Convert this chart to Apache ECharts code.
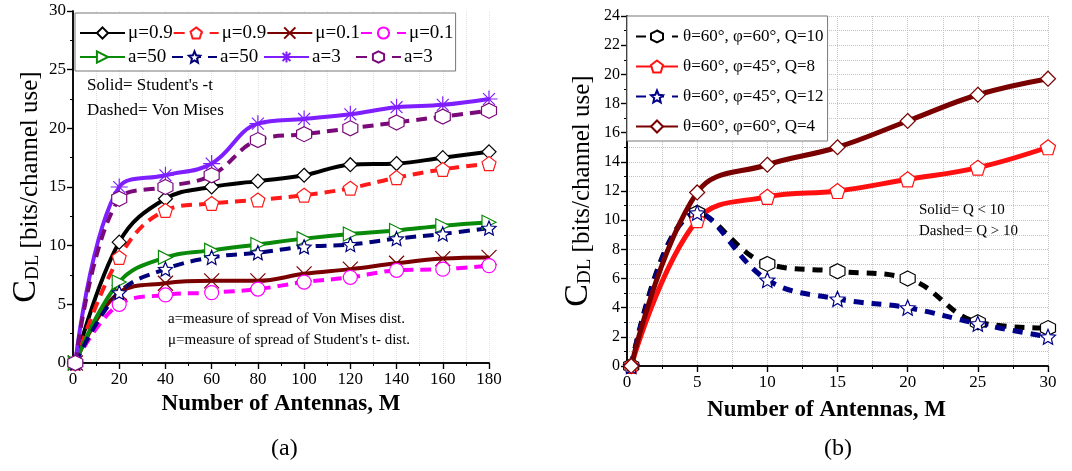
<!DOCTYPE html>
<html>
<head>
<meta charset="utf-8">
<script src="https://cdn.jsdelivr.net/npm/echarts@6/dist/echarts.min.js"></script>
<style>
  html, body { margin: 0; padding: 0; background: #fff; }
  #chart { width: 1072px; height: 471px; }
</style>
</head>
<body>
<div id="chart"></div>
<script>
// ---- data, panel (a): capacity vs number of antennas
const antennasA = [1, 20, 40, 60, 80, 100, 120, 140, 160, 180]
const mu09Solid = [0, 10.3, 14, 15, 15.5, 16, 16.9, 17, 17.5, 18]
const mu09Dashed = [0, 9, 13, 13.6, 13.9, 14.3, 14.9, 15.8, 16.5, 17]
const mu01Solid = [0, 6, 6.8, 7, 7, 7.6, 8, 8.5, 8.9, 9]
const mu01Dashed = [0, 5, 5.8, 6, 6.3, 6.9, 7.3, 7.9, 8, 8.3]
const a50Solid = [0, 6.9, 9, 9.6, 10.1, 10.6, 11, 11.3, 11.7, 12]
const a50Dashed = [0, 6, 8, 9, 9.4, 9.9, 10.1, 10.6, 11, 11.5]
const a3Solid = [0, 15, 16, 17, 20.4, 20.8, 21.2, 21.8, 22, 22.5]
const a3Dashed = [0, 14, 15, 16, 19, 19.5, 20, 20.5, 21, 21.5]

// ---- data, panel (b)
const antennasB = [0.3, 5, 10, 15, 20, 25, 30]
const q10 = [0, 10.5, 7, 6.5, 6, 3, 2.6]
const q8 = [0, 10, 11.6, 12, 12.8, 13.6, 15]
const q12 = [0, 10.5, 5.9, 4.6, 4, 2.9, 2]
const q4 = [0, 11.9, 13.8, 15, 16.8, 18.6, 19.7]

const legendA = ['μ=0.9', 'μ=0.9', 'μ=0.1', 'μ=0.1', 'a=50', 'a=50', 'a=3', 'a=3']
const legendB = ['θ=60°, φ=60°, Q=10', 'θ=60°, φ=45°, Q=8', 'θ=60°, φ=45°, Q=12', 'θ=60°, φ=60°, Q=4']

const FONT = '"Liberation Serif", "DejaVu Serif", serif'

// marker shapes (Origin style hollow symbols)
const SYM = {
    pentagon: 'path://M10,0 L19.5,6.9 L15.9,18.1 L4.1,18.1 L0.5,6.9 Z',
    cross: 'path://M0,0 L20,20 M20,0 L0,20',
    star: 'path://M10,0 L12.9,6.9 L20,7.6 L14.6,12.4 L16.2,19.5 L10,15.8 L3.8,19.5 L5.4,12.4 L0,7.6 L7.1,6.9 Z',
    asterisk: 'path://M10,0 L10,20 M0,10 L20,10 M3,3 L17,17 M17,3 L3,17',
    hexagon: 'path://M10,0 L18.7,5 L18.7,15 L10,20 L1.3,15 L1.3,5 Z',
    triRight: 'path://M0,0 L17,10 L0,20 Z'
}

const pairs = (xs, ys) => xs.map((x, i) => [x, ys[i]])

const makeSeries = (id, xs, ys, color, dashed, symbol, grid, width, dash, size) => ({
    id: id,
    name: id,
    type: 'line',
    xAxisIndex: grid * 2,
    yAxisIndex: grid * 2,
    data: pairs(xs, ys),
    smooth: 0.4,
    symbol: symbol,
    symbolSize: size || (grid === 0 ? 14 : 15),
    showAllSymbol: true,
    animation: false,
    lineStyle: { color: color, width: width, type: dashed ? dash : 'solid' },
    itemStyle: { color: '#fff', borderColor: color, borderWidth: 1.2 }
})

const seriesA = [
    makeSeries('a0', antennasA, mu09Solid, '#000000', false, 'diamond', 0, 4),
    makeSeries('a1', antennasA, mu09Dashed, '#ff1a1a', true, SYM.pentagon, 0, 4, [11, 7]),
    makeSeries('a2', antennasA, mu01Solid, '#7a0000', false, SYM.cross, 0, 4, null, 15),
    makeSeries('a3', antennasA, mu01Dashed, '#ff00ff', true, 'circle', 0, 4, [11, 7]),
    makeSeries('a4', antennasA, a50Solid, '#0a8a0a', false, SYM.triRight, 0, 4),
    makeSeries('a5', antennasA, a50Dashed, '#00007a', true, SYM.star, 0, 4, [11, 7]),
    makeSeries('a6', antennasA, a3Solid, '#7f1fff', false, SYM.asterisk, 0, 4, null, 17),
    makeSeries('a7', antennasA, a3Dashed, '#7a0a7a', true, SYM.hexagon, 0, 4, [11, 7], 15)
]
const seriesB = [
    makeSeries('b0', antennasB, q10, '#000000', true, SYM.hexagon, 1, 5, [10, 8]),
    makeSeries('b1', antennasB, q8, '#ff1010', false, SYM.pentagon, 1, 5),
    makeSeries('b2', antennasB, q12, '#00008a', true, SYM.star, 1, 5, [10, 8]),
    makeSeries('b3', antennasB, q4, '#7a0000', false, 'diamond', 1, 5)
]

const labelMap = {}
seriesA.forEach((s, i) => { labelMap[s.id] = legendA[i] })
seriesB.forEach((s, i) => { labelMap[s.id] = legendB[i] })

// y axis name with subscript, C_DL [bits/channel use]
const yName = '{c|C}{s|DL}{t| [bits/channel use]}'
const yNameStyle = {
    color: '#000',
    fontFamily: FONT,
    rich: {
        c: { fontSize: 34, fontFamily: FONT, lineHeight: 51, verticalAlign: 'bottom' },
        s: { fontSize: 19, fontFamily: FONT, lineHeight: 20, verticalAlign: 'bottom' },
        t: { fontSize: 25, fontFamily: FONT, lineHeight: 61, verticalAlign: 'bottom' }
    }
}

const axisLineStyle = { show: true, lineStyle: { color: '#000', width: 1.5 } }
const labelStyle = { color: '#000', fontFamily: FONT, fontSize: 17 }

// bottom/left axes with labels, top/right axes only for the box
const xPair = (grid, max, interval, gridColor, showGrid) => [{
    type: 'value', gridIndex: grid, min: 0, max: max, interval: interval,
    name: 'Number of Antennas, M', nameLocation: 'middle', nameGap: grid === 0 ? 30 : 33,
    nameTextStyle: {
        color: '#000', fontFamily: FONT, fontSize: 23, fontWeight: 'bold',
        padding: grid === 0 ? 0 : [0, 22, 0, 0]
    },
    axisLine: axisLineStyle,
    axisTick: { show: true, length: 6, lineStyle: { color: '#000', width: 1.2 } },
    minorTick: { show: true, splitNumber: 2, length: 3, lineStyle: { color: '#000' } },
    axisLabel: Object.assign({ margin: 8 }, labelStyle),
    splitLine: { show: showGrid, lineStyle: { color: gridColor, type: 'dotted' } },
    minorSplitLine: { show: showGrid, lineStyle: { color: gridColor, type: 'dotted' } }
}, {
    type: 'value', gridIndex: grid, position: 'top', min: 0, max: max, interval: interval,
    axisLine: axisLineStyle,
    axisTick: { show: true, inside: true, length: 6, lineStyle: { color: '#000', width: 1.2 } },
    minorTick: { show: false },
    axisLabel: { show: false },
    splitLine: { show: false }
}]

const yPair = (grid, max, interval, gridColor, showGrid, gap) => [{
    type: 'value', gridIndex: grid, min: 0, max: max, interval: interval,
    name: yName, nameLocation: 'middle', nameGap: gap, nameRotate: 90,
    nameTextStyle: yNameStyle,
    axisLine: axisLineStyle,
    axisTick: { show: true, length: 6, lineStyle: { color: '#000', width: 1.2 } },
    minorTick: { show: true, splitNumber: 2, length: 3, lineStyle: { color: '#000' } },
    axisLabel: Object.assign({ margin: 7 }, labelStyle, { fontSize: grid === 0 ? 17 : 16 }),
    splitLine: { show: showGrid, lineStyle: { color: gridColor, type: 'dotted' } },
    minorSplitLine: { show: showGrid, lineStyle: { color: gridColor, type: 'dotted' } }
}, {
    type: 'value', gridIndex: grid, position: 'right', min: 0, max: max, interval: interval,
    axisLine: axisLineStyle,
    axisTick: { show: true, inside: true, length: 6, lineStyle: { color: '#000', width: 1.2 } },
    minorTick: { show: true, splitNumber: 2, length: 3, lineStyle: { color: '#000' } },
    axisLabel: { show: false },
    splitLine: { show: false }
}]

const note = (text, left, top, size) => ({
    type: 'text', left: left, top: top, z: 100,
    style: { text: text, fill: '#000', font: size + 'px ' + FONT }
})

const chart = echarts.init(document.getElementById('chart'), null, { renderer: 'canvas' })

chart.setOption({
    backgroundColor: '#fff',
    animation: false,
    textStyle: { fontFamily: FONT },
    grid: [
        { left: 73, top: 11, width: 416, height: 352 },
        { left: 627, top: 16, width: 421, height: 350 }
    ],
    xAxis: [...xPair(0, 180, 20, '#e2e2e2', true), ...xPair(1, 30, 5, '#c4c4c4', true)],
    yAxis: [...yPair(0, 30, 5, '#e2e2e2', false, 30), ...yPair(1, 24, 2, '#c4c4c4', true, 32)],
    legend: [{
        data: seriesA.map(s => s.id),
        formatter: name => labelMap[name],
        left: 75, top: 13, width: 380,
        orient: 'horizontal',
        padding: [8, 2, 2, 4],
        itemGap: 0, itemWidth: 45, itemHeight: 14,
        backgroundColor: '#fff', borderColor: '#777', borderWidth: 1,
        selectedMode: false,
        textStyle: { color: '#000', fontFamily: FONT, fontSize: 19, width: 43, lineHeight: 24, padding: [0, 0, 0, -2] }
    }, {
        data: seriesB.map(s => s.id),
        formatter: name => labelMap[name],
        left: 627, top: 16,
        orient: 'vertical',
        padding: [10, 4, 4, 8],
        itemGap: 9, itemWidth: 42, itemHeight: 15,
        backgroundColor: '#fff', borderColor: '#777', borderWidth: 1,
        selectedMode: false,
        textStyle: { color: '#000', fontFamily: FONT, fontSize: 17, lineHeight: 21 }
    }],
    graphic: [
        note("Solid= Student's -t", 87, 77, 17),
        note('Dashed= Von Mises', 87, 102, 17),
        note('a=measure of spread of Von Mises dist.', 168, 312, 15),
        note("μ=measure of spread of Student's t- dist.", 168, 333, 15),
        note('Solid= Q < 10', 919, 203, 15),
        note('Dashed= Q > 10', 919, 224, 15),
        note('(a)', 271, 437, 24),
        note('(b)', 824, 437, 24)
    ],
    series: [...seriesA, ...seriesB]
})
</script>
</body>
</html>
